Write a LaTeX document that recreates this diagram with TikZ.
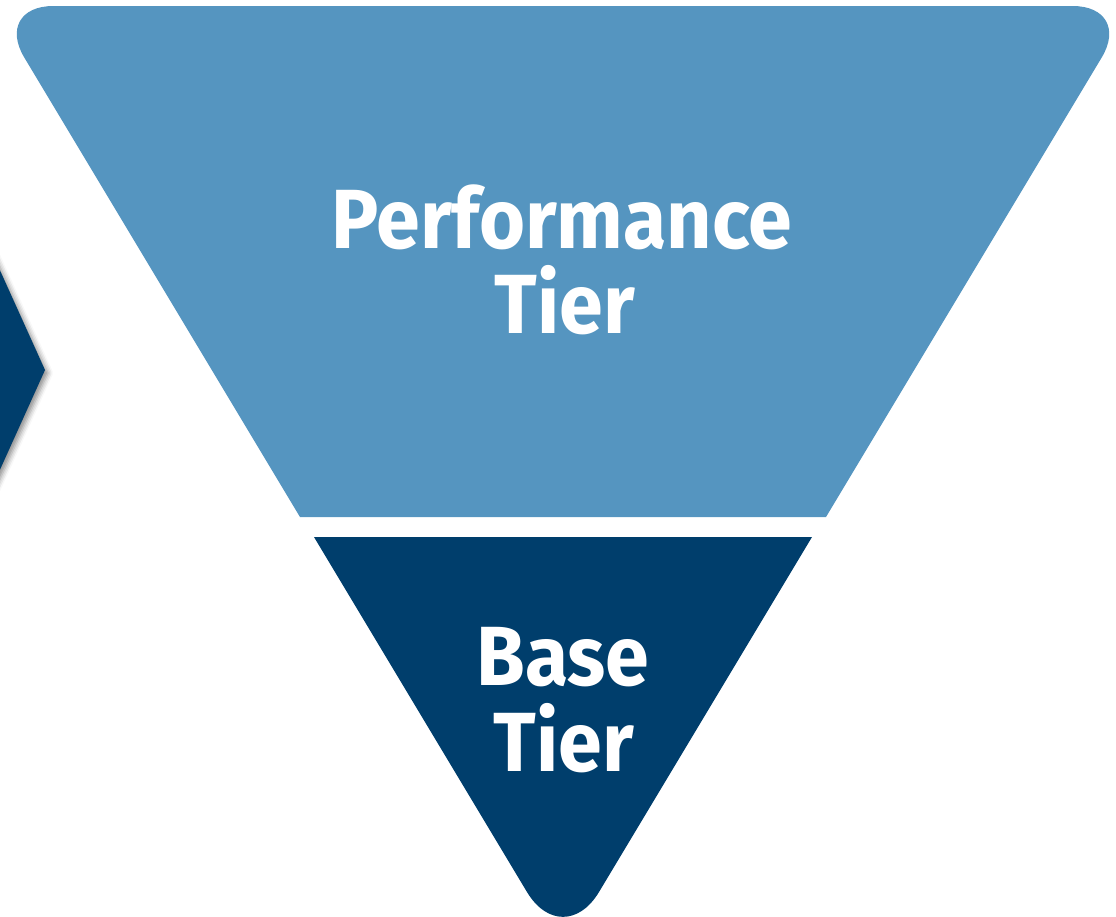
\documentclass[tikz,border=0pt]{standalone}
\usepackage{fontspec}
\setmainfont{Fira Sans}[FakeStretch=0.94]
\usetikzlibrary{shadows.blur}
\definecolor{lightblue}{HTML}{5595C0}
\definecolor{darkblue}{HTML}{003E6C}
\tikzset{
  tiertext/.style={text=white, font=\fontsize{84}{86}\selectfont\bfseries, anchor=base, inner sep=0pt},
}
\begin{document}
\begin{tikzpicture}[x=1pt,y=-1pt]
\useasboundingbox (0,0) rectangle (1116,916);
\clip (0,0) rectangle (1116,916);
% left chevron with shadow
\fill[darkblue, blur shadow={shadow xshift=3pt, shadow yshift=-3pt, shadow blur radius=5pt, shadow opacity=45}]
  (-30,204) -- (45,370) -- (-30,536) -- cycle;
% upper trapezoid
\fill[lightblue] (300,517) [rounded corners=60pt] -- (-6.6,6) -- (1132.6,6) [sharp corners] -- (826,517) -- cycle;
% lower triangle
\fill[darkblue] (314,537) [rounded corners=70pt] -- (563,952) [sharp corners] -- (812,537) -- cycle;
\node[tiertext] (perf) at (562,248) {Performance};
\node[tiertext] (tier1) at (565,333) {Tier};
\node[tiertext] (base) at (563,685) {Base};
\node[tiertext] (tier2) at (564,771) {Tier};
\end{tikzpicture}
\end{document}
